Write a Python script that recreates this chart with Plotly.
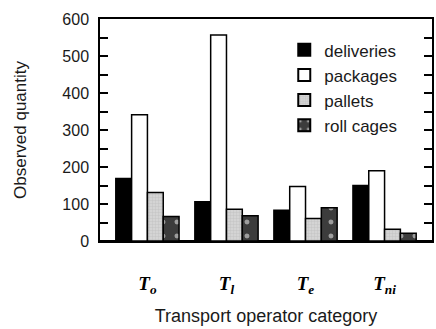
import plotly.graph_objects as go

categories = [
    "<b><i>T</i></b><sub><b><i>o</i></b></sub>",
    "<b><i>T</i></b><sub><b><i>l</i></b></sub>",
    "<b><i>T</i></b><sub><b><i>e</i></b></sub>",
    "<b><i>T</i></b><sub><b><i>ni</i></b></sub>",
]
deliveries = [169, 106, 83, 150]
packages = [341, 557, 147, 190]
pallets = [131, 86, 61, 32]
roll_cages = [66, 68, 90, 21]

y_ticks = [0, 100, 200, 300, 400, 500, 600]

FONT = "Arial, 'Liberation Sans', sans-serif"
SERIF = "'Times New Roman', 'Liberation Serif', serif"
x = list(range(len(categories)))

fig = go.Figure()
fig.add_bar(
    name="deliveries", x=x, y=deliveries,
    marker=dict(color="#000000", line=dict(color="#000000", width=1.5)),
)
fig.add_bar(
    name="packages", x=x, y=packages,
    marker=dict(color="#ffffff", line=dict(color="#000000", width=1.5)),
)
fig.add_bar(
    name="pallets", x=x, y=pallets,
    marker=dict(
        color="#d4d4d4", line=dict(color="#000000", width=1.5),
        pattern=dict(shape="+", fgcolor="#a8a8a8", size=3, solidity=0.25),
    ),
)
fig.add_bar(
    name="roll cages", x=x, y=roll_cages,
    marker=dict(
        color="#3c3c3c", line=dict(color="#000000", width=1.5),
        pattern=dict(shape=".", fgcolor="#ffffff", fillmode="overlay",
                     size=14, solidity=0.1),
    ),
)

fig.update_layout(
    width=436, height=329,
    margin=dict(l=100, r=2, t=19, b=88),
    paper_bgcolor="#ffffff", plot_bgcolor="#ffffff",
    barmode="group", bargap=0.2, bargroupgap=0,
    font=dict(family=FONT, size=15, color="#1a1a1a"),
    showlegend=True,
    legend=dict(
        x=0.555, y=0.94, xanchor="left", yanchor="top",
        bgcolor="rgba(0,0,0,0)", font=dict(size=17, color="#1a1a1a"),
        tracegroupgap=0, itemsizing="constant",
    ),
)
fig.update_xaxes(
    range=[-0.6, 3.6], tickmode="array", tickvals=x, ticktext=categories,
    ticks="", showgrid=False, zeroline=False,
    showline=True, linecolor="#000000", linewidth=1.5, mirror=True,
    tickfont=dict(family=SERIF, size=19, color="#000000"),
    ticklabelstandoff=24,
    title=dict(text="Transport operator category", standoff=14,
               font=dict(family=FONT, size=18, color="#1a1a1a")),
)
fig.update_yaxes(
    range=[0, 600], tickmode="array", tickvals=y_ticks,
    ticks="inside", ticklen=8, tickwidth=1.5, tickcolor="#000000",
    minor=dict(dtick=50, ticks="inside", ticklen=8, tickwidth=1.5,
               tickcolor="#000000", showgrid=False),
    showgrid=False, zeroline=True, zerolinecolor="#000000", zerolinewidth=2.5,
    showline=True, linecolor="#000000", linewidth=1.5, mirror="ticks",
    tickfont=dict(family=FONT, size=16, color="#1a1a1a"),
    ticklabelstandoff=6,
    title=dict(text="Observed quantity", standoff=31,
               font=dict(family=FONT, size=17, color="#1a1a1a")),
)

fig.write_html("out.html")
